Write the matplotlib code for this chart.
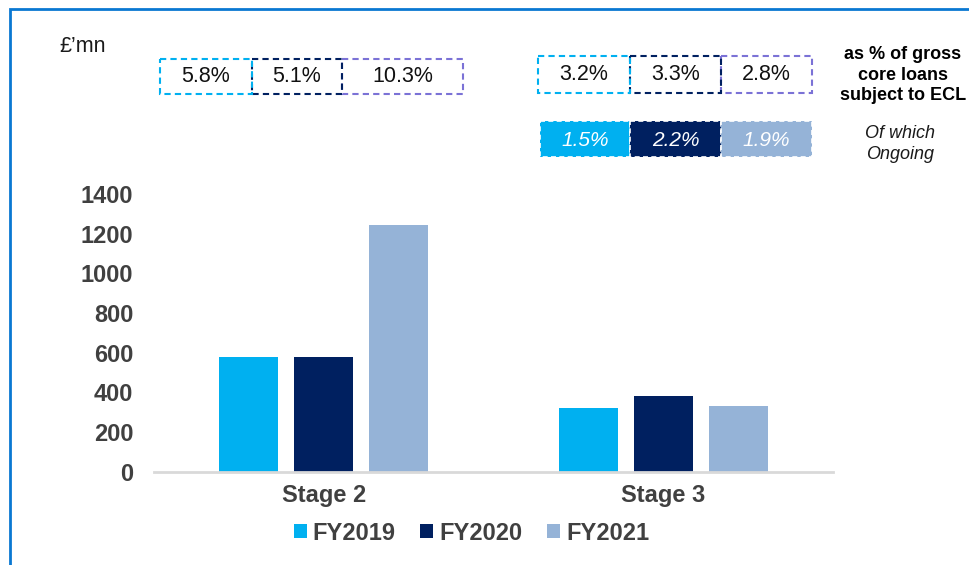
import matplotlib
matplotlib.use("Agg")
import matplotlib.pyplot as plt
from matplotlib.patches import Rectangle, Patch
import numpy as np

plt.rcParams['font.family'] = ['Liberation Sans', 'DejaVu Sans']

categories = ["Stage 2", "Stage 3"]
series = ["FY2019", "FY2020", "FY2021"]
fy2019 = [577, 319]
fy2020 = [577, 381]
fy2021 = [1242, 331]
colors = ["#00B0F0", "#002060", "#95B3D7"]
yticks = [0, 200, 400, 600, 800, 1000, 1200, 1400]

stage2_pct = ["5.8%", "5.1%", "10.3%"]
stage3_pct = ["3.2%", "3.3%", "2.8%"]
stage3_ongoing = ["1.5%", "2.2%", "1.9%"]
box_edge_colors = ["#00B0F0", "#002060", "#7B72D6"]

W, H = 969, 565
fig = plt.figure(figsize=(W / 100, H / 100), dpi=100)

def px_rect(x0, y0, x1, y1):
    return [x0 / W, 1 - y1 / H, (x1 - x0) / W, (y1 - y0) / H]

# main axes
ax = fig.add_axes(px_rect(154, 193.9, 833, 471.7))
x = np.arange(len(categories))
pitch = 0.221
bw = 0.174
for i, (vals, c) in enumerate(zip([fy2019, fy2020, fy2021], colors)):
    ax.bar(x + (i - 1) * pitch, vals, width=bw, color=c, label=series[i])
ax.set_xlim(-0.5, 1.5)
ax.set_ylim(0, 1400)
ax.set_yticks(yticks)
ax.set_xticks(x)
ax.set_xticklabels(categories)
for s in ["top", "right", "left"]:
    ax.spines[s].set_visible(False)
ax.spines["bottom"].set_color("#D9D9D9")
ax.spines["bottom"].set_linewidth(2)
ax.tick_params(axis="y", length=0, pad=15, labelsize=17, labelcolor="#404040")
ax.tick_params(axis="x", length=0, pad=9, labelsize=17, labelcolor="#404040")
for lab in ax.get_yticklabels() + ax.get_xticklabels():
    lab.set_fontweight("bold")

handles = [Patch(facecolor=c, edgecolor="none") for c in colors]
leg = fig.legend(handles, series, loc="center", bbox_to_anchor=(471.5 / W, 1 - 533 / H),
                 ncol=3, frameon=False, fontsize=17, handlelength=0.55, handleheight=0.55,
                 handletextpad=0.25, columnspacing=1.05)
for t in leg.get_texts():
    t.set_fontweight("bold")
    t.set_color("#404040")

# overlay for annotations
ov = fig.add_axes([0, 0, 1, 1], zorder=5)
ov.set_xlim(0, W)
ov.set_ylim(H, 0)
ov.axis("off")

# blue frame
ov.plot([10, 10, W + 5], [H + 5, 9, 9], color="#0A78D2", lw=2, solid_joinstyle="miter")

ov.text(59, 47, "£’mn", fontsize=15.5, ha="left", va="center", color="#1a1a1a")

def dashed_box(x0, y0, x1, y1, ec, fc="none", z=1):
    r = Rectangle((x0, y0), x1 - x0, y1 - y0, facecolor=fc, edgecolor=ec,
                  linestyle=(0, (3, 2)), linewidth=1.5, zorder=z)
    ov.add_patch(r)

# stage 2 boxes
s2_edges = [160, 252, 342, 463]
for i in range(3):
    dashed_box(s2_edges[i], 59, s2_edges[i + 1], 94, box_edge_colors[i], z=3 - i)
    ov.text((s2_edges[i] + s2_edges[i + 1]) / 2, 77, stage2_pct[i], fontsize=15.5,
            ha="center", va="center", color="#111111", zorder=5)

# stage 3 boxes
s3_edges = [538, 630, 721, 812]
for i in range(3):
    dashed_box(s3_edges[i], 56, s3_edges[i + 1], 93, box_edge_colors[i], z=3 - i)
    ov.text((s3_edges[i] + s3_edges[i + 1]) / 2, 75, stage3_pct[i], fontsize=15.5,
            ha="center", va="center", color="#111111", zorder=5)

# ongoing boxes (filled)
on_edges = [540, 630, 721, 812]
for i in range(3):
    r = Rectangle((on_edges[i], 121), on_edges[i + 1] - on_edges[i], 36,
                  facecolor=colors[i], edgecolor="white", linestyle=(0, (3, 2)),
                  linewidth=1.2, zorder=2)
    ov.add_patch(r)
    ov.text((on_edges[i] + on_edges[i + 1]) / 2, 140, stage3_ongoing[i], fontsize=15,
            ha="center", va="center", color="white", style="italic", zorder=5)

ov.text(903, 75, "as % of gross\ncore loans\nsubject to ECL", fontsize=13, fontweight="bold",
        ha="center", va="center", color="#000000", linespacing=1.25)
ov.text(900, 144, "Of which\nOngoing", fontsize=13, style="italic",
        ha="center", va="center", color="#1a1a1a", linespacing=1.25)

fig.savefig("out.png", dpi=100)
